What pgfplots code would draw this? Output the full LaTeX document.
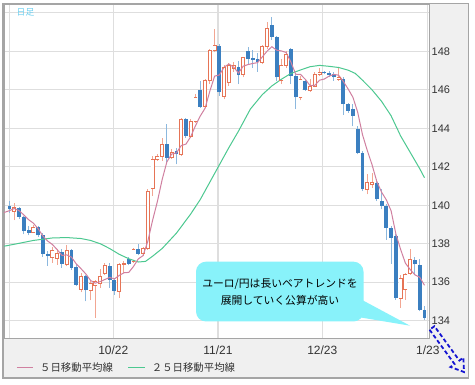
\documentclass[border=0pt]{standalone}
\usepackage{pgfplots}
\pgfplotsset{compat=1.18}
\usepackage{pgfplotstable}
\usepackage{fontspec}
\setmainfont{Liberation Sans}
\newfontfamily\jp{Noto Sans CJK JP}
\definecolor{upbody}{RGB}{230,116,86}
\definecolor{upwick}{RGB}{242,166,146}
\definecolor{dnbody}{RGB}{59,127,192}
\definecolor{dnwick}{RGB}{140,184,222}
\definecolor{maf}{RGB}{208,128,160}
\definecolor{mas}{RGB}{76,200,144}
\definecolor{panel}{RGB}{240,240,240}
\definecolor{framec}{RGB}{165,165,165}
\definecolor{gridc}{RGB}{222,222,222}
\definecolor{callout}{RGB}{136,242,250}
\definecolor{arrowc}{RGB}{20,20,210}
\definecolor{tickc}{RGB}{51,51,51}
\definecolor{hiashi}{RGB}{110,208,240}

\pgfplotstableread{
i o h l c
1 139.70 140.13 139.23 139.87
5 138.58 138.95 138.55 138.86
9 137.30 137.85 137.00 137.65
10 137.25 137.75 136.90 137.52
12 136.95 137.92 136.83 137.65
15 135.62 136.48 135.47 136.30
17 135.58 136.05 135.05 135.93
18 135.85 136.14 134.14 136.05
19 135.95 136.70 135.70 136.30
20 136.48 137.00 136.40 136.86
23 135.53 137.00 135.18 136.92
24 136.92 137.10 136.50 137.00
26 137.09 137.78 137.00 137.70
28 137.50 137.85 137.35 137.78
29 137.75 140.82 137.68 140.73
30 140.90 142.56 140.48 142.39
31 142.40 142.65 142.30 142.56
32 142.56 143.50 142.30 143.17
34 142.47 142.90 142.40 142.73
36 142.65 144.52 142.55 144.47
38 143.60 144.47 143.50 144.38
39 144.38 145.77 144.30 145.60
41 145.13 146.55 145.08 146.47
42 146.47 148.11 146.30 148.06
43 148.03 149.16 147.95 148.29
45 145.68 147.28 145.50 147.16
46 146.38 147.40 146.20 147.25
47 147.10 147.42 146.95 147.25
49 146.80 147.73 146.65 147.68
53 147.42 148.33 147.33 148.25
54 148.25 149.54 148.10 149.19
57 146.47 147.60 146.30 147.25
58 147.25 148.00 147.15 147.85
61 145.60 146.72 145.45 146.55
63 145.95 146.55 145.90 146.20
64 146.20 146.90 146.12 146.80
65 146.80 147.15 146.72 146.93
69 146.55 147.16 146.47 146.64
75 140.82 141.60 140.56 141.17
76 141.10 141.70 140.90 141.17
82 135.18 136.40 134.66 136.22
83 135.60 136.48 135.10 136.40
84 136.48 137.70 136.40 137.18
}\upc

\pgfplotstableread{
i o h l c
0 139.95 140.20 139.62 139.78
2 139.87 139.92 139.30 139.40
3 139.40 139.45 138.48 138.65
4 138.69 138.91 138.43 138.57
6 138.86 138.92 138.36 138.43
7 138.43 138.57 137.32 137.49
8 137.49 137.60 136.86 137.35
11 137.56 137.70 136.74 136.95
13 137.65 137.70 136.65 136.74
14 136.80 136.92 135.80 135.88
16 136.30 136.40 135.00 135.58
21 136.86 137.00 135.72 136.13
22 136.13 136.22 135.35 135.53
25 137.18 137.32 136.88 136.95
27 137.70 138.00 137.40 137.49
33 143.17 144.20 142.20 142.47
35 142.82 142.98 142.12 142.65
37 144.47 144.55 143.50 143.60
40 145.98 146.47 145.08 145.13
44 148.29 148.37 145.68 145.90
48 147.20 147.50 146.30 146.76
50 148.03 148.20 147.30 147.60
51 147.63 148.05 147.15 147.56
52 147.60 147.90 146.95 147.45
55 149.35 149.80 148.60 148.75
56 148.72 148.80 146.45 146.64
59 148.10 148.15 146.30 146.73
60 146.73 146.82 144.99 145.60
62 146.47 146.55 145.95 146.00
66 146.90 146.98 146.80 146.85
67 146.86 146.99 146.64 146.76
68 146.80 146.90 146.47 146.64
70 146.55 146.64 144.70 145.25
71 145.25 145.33 144.82 144.90
72 145.00 145.25 144.10 144.64
73 143.98 144.12 142.65 142.73
74 142.73 142.82 140.73 140.82
77 141.17 141.34 140.21 140.30
78 140.20 140.82 139.78 139.95
79 139.95 140.04 138.20 138.83
80 138.83 138.92 136.96 138.30
81 138.40 138.48 135.10 135.18
85 137.15 137.30 136.35 136.92
86 136.92 137.18 134.48 134.57
87 134.57 134.75 134.05 134.14
}\dnc

\pgfplotstableread{
i v
-1.15 139.62
0 139.72
1 139.83
2 139.72
3 139.50
4 139.25
5 139.07
6 138.78
7 138.40
8 138.14
9 137.96
10 137.69
11 137.39
12 137.42
13 137.30
14 136.95
15 136.70
16 136.43
17 136.09
18 135.95
19 136.03
20 136.14
21 136.25
22 136.17
23 136.35
24 136.49
25 136.51
26 136.82
27 137.21
28 137.38
29 138.13
30 139.22
31 140.19
32 141.33
33 142.26
34 142.66
35 142.72
36 143.10
37 143.18
38 143.57
39 144.14
40 144.64
41 145.04
42 145.93
43 146.71
44 146.77
45 147.18
46 147.34
47 147.18
48 146.87
49 147.23
50 147.31
51 147.37
52 147.41
53 147.71
54 148.01
55 148.24
56 148.06
57 148.02
58 147.94
59 147.44
60 146.81
61 146.80
62 146.55
63 146.22
64 146.23
65 146.50
66 146.56
67 146.71
68 146.80
69 146.76
70 146.43
71 146.04
72 145.61
73 144.83
74 143.67
75 142.85
76 142.11
77 141.24
78 140.68
79 140.28
80 139.71
81 138.51
82 137.70
83 136.99
84 136.66
85 136.38
86 136.26
87 135.84
}\maA

\pgfplotstableread{
i v
-1.15 137.87
2 138.02
5 138.17
9 138.30
12 138.32
15 138.27
17 138.17
19 138.00
21 137.75
23 137.45
25 137.22
27 137.05
28.5 137.08
30 137.35
32 137.75
35 138.55
38 139.55
40 140.30
43 141.65
46 143.00
48 143.85
50.5 145.00
53 145.75
55 146.20
57 146.55
59 146.85
61 147.03
63 147.20
65 147.27
67 147.22
69 147.16
71 147.02
72.5 146.85
74 146.50
76 146.00
78 145.40
80 144.65
82 143.60
84 142.75
86 141.90
87 141.43
}\maB

\begin{document}
\begin{tikzpicture}[x=1pt,y=1pt]
\begin{scope}[shift={(-4,-47)}]
\path[use as bounding box, fill=white] (0,0) rectangle (475,385);
\fill[panel] (3,7) rectangle (468.5,381.2);
\draw[framec, line width=1.3pt] (3,7) rectangle (468.5,381.2);
\end{scope}

\begin{axis}[scale only axis,
  width=425.5pt, height=334pt,
  xmin=-1.153, xmax=88.05, ymin=133.10, ymax=150.46,
  axis background/.style={fill=white},
  axis line style={draw=framec, line width=0.8pt},
  xtick={0,21.76,43.7,65.57,87.7},
  xticklabels={,10/22,11/21,12/23,1/23},
  ytick={134,136,...,150},
  yticklabels={134,136,138,140,142,144,146,148,{}},
  grid=major, major grid style={draw=gridc, line width=1.2pt},
  major tick length=0pt,
  yticklabel pos=right,
  xticklabel style={font=\fontsize{12}{12}\selectfont, text=tickc, anchor=base, yshift=-16.3pt},
  yticklabel style={font=\fontsize{11}{11}\selectfont, text=tickc, anchor=west, inner sep=0pt, xshift=2pt},
  clip=true]

% down candles
\addplot[draw=none, mark=none, error bars/.cd, y dir=plus, y explicit, error mark=none,
  error bar style={line width=1pt, draw=dnwick}]
  table[x=i, y=l, y error expr=\thisrow{h}-\thisrow{l}] {\dnc};
\addplot[draw=none, mark=none, error bars/.cd, y dir=plus, y explicit, error mark=none,
  error bar style={line width=3.9pt, draw=dnbody}]
  table[x=i, y=c, y error expr=\thisrow{o}-\thisrow{c}] {\dnc};

% up candles
\addplot[draw=none, mark=none, error bars/.cd, y dir=plus, y explicit, error mark=none,
  error bar style={line width=1pt, draw=upwick}]
  table[x=i, y=l, y error expr=\thisrow{h}-\thisrow{l}] {\upc};
\addplot[draw=none, mark=none, error bars/.cd, y dir=plus, y explicit, error mark=none,
  error bar style={line width=3.9pt, draw=upbody}]
  table[x=i, y=o, y error expr=\thisrow{c}-\thisrow{o}] {\upc};
\addplot[draw=none, mark=none, error bars/.cd, y dir=plus, y explicit, error mark=none,
  error bar style={line width=2.3pt, draw=white}]
  table[x=i, y=o, y error expr=\thisrow{c}-\thisrow{o}] {\upc};
\addplot[only marks, mark=-, mark size=1.95pt, mark options={draw=upbody, line width=0.8pt}]
  table[x=i, y=o] {\upc};
\addplot[only marks, mark=-, mark size=1.95pt, mark options={draw=upbody, line width=0.8pt}]
  table[x=i, y=c] {\upc};

% moving averages
\addplot[mas, line width=1pt, mark=none] table[x=i, y=v] {\maB};
\addplot[maf, line width=1pt, mark=none] table[x=i, y=v] {\maA};
\end{axis}

\begin{scope}[shift={(-4,-47)}]
% 日足 label
\node[font=\jp\fontsize{8.8}{8.8}\selectfont, text=hiashi] at (25.5,372.5) {日足};

% callout
\fill[callout, rounded corners=10pt] (196,63.5) rectangle (363.5,123.3);
\fill[callout] (356,88.3) -- (410,59.3) -- (356,68.3) -- cycle;
\node[font=\jp\fontsize{10.8}{10.8}\selectfont, text=black] at (280,101.3) {ユーロ/円は長いベアトレンドを};
\node[font=\jp\fontsize{10.8}{10.8}\selectfont, text=black] at (280,85) {展開していく公算が高い};

% dashed arrow
\draw[arrowc, line width=1.8pt, dash pattern=on 4pt off 2.5pt, line join=miter]
  (429.57,55.24) -- (454.51,20.95) -- (450.47,18.01) -- (464,13) -- (463.41,27.41) -- (459.37,24.47) -- (434.43,58.76) -- cycle;

% legend
\draw[maf, line width=1pt] (17,17) -- (33,17);
\node[anchor=west, inner sep=0pt, font=\jp\fontsize{10.4}{10.4}\selectfont, text=tickc] at (40,17) {５日移動平均線};
\draw[mas, line width=1pt] (128,17) -- (145,17);
\node[anchor=west, inner sep=0pt, font=\jp\fontsize{10.4}{10.4}\selectfont, text=tickc] at (151.7,17) {２５日移動平均線};
\end{scope}
\end{tikzpicture}
\end{document}
